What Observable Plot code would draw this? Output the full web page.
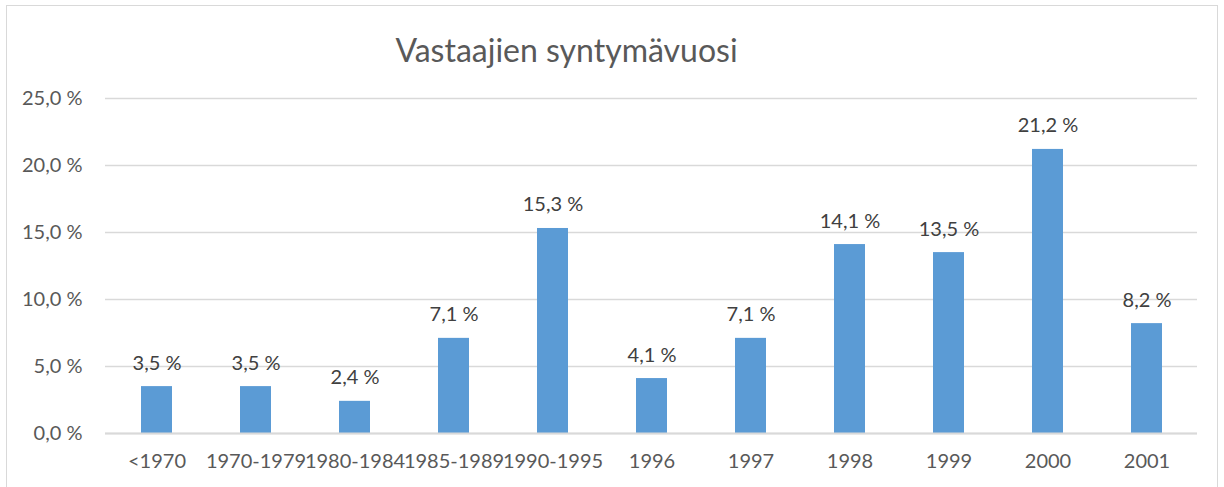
<!DOCTYPE html>
<html>
<head>
<meta charset="utf-8">
<script src="https://cdn.jsdelivr.net/npm/d3@7"></script>
<script src="https://cdn.jsdelivr.net/npm/@observablehq/plot@0.6"></script>
<style>
  html, body { margin: 0; padding: 0; background: #fff; }
  #wrap { position: relative; width: 1224px; height: 487px; overflow: hidden; }
  #border { position: absolute; left: 6px; top: 5px; width: 1212px; height: 600px; border: 1px solid #d9d9d9; box-sizing: border-box; }
  #chart { position: absolute; left: 0; top: 0; }
</style>
</head>
<body>
<div id="wrap">
  <div id="border"></div>
  <div id="chart"></div>
</div>
<script>
const title = "Vastaajien syntymävuosi";
const categories = ["<1970", "1970-1979", "1980-1984", "1985-1989", "1990-1995", "1996", "1997", "1998", "1999", "2000", "2001"];
const values = [3.5, 3.5, 2.4, 7.1, 15.3, 4.1, 7.1, 14.1, 13.5, 21.2, 8.2];
const yTicks = [0, 5, 10, 15, 20, 25];

const data = categories.map((c, i) => ({ cat: c, v: values[i] }));
const fmt = d => d.toFixed(1).replace(".", ",") + " %";
const font = "Lato, 'Open Sans', sans-serif";

const plot = Plot.plot({
  width: 1224,
  height: 487,
  marginLeft: 105,
  marginRight: 27,
  marginTop: 98,
  marginBottom: 54,
  style: { fontFamily: font, fontSize: "20px", color: "#595959", background: "transparent" },
  x: { domain: categories, paddingInner: 0.69, paddingOuter: 0.345, label: null, tickSize: 0, tickPadding: 20 },
  y: { domain: [0, 25], ticks: yTicks, label: null, tickFormat: fmt, tickSize: 0, tickPadding: 23 },
  marks: [
    Plot.gridY(yTicks, { stroke: "#d9d9d9", strokeOpacity: 1, strokeWidth: 1.5 }),
    Plot.barY(data, { x: "cat", y: "v", fill: "#5b9bd5" }),
    Plot.text(data, { x: "cat", y: "v", text: d => fmt(d.v), lineAnchor: "bottom", dy: -17, fill: "#404040", fontSize: 20 }),
    Plot.ruleY([0], { stroke: "#d9d9d9", strokeWidth: 2 }),
    Plot.text([title], { frameAnchor: "top", dx: -85, dy: -59, fontSize: 32, fill: "#595959" })
  ]
});
document.getElementById("chart").appendChild(plot);
</script>
</body>
</html>
